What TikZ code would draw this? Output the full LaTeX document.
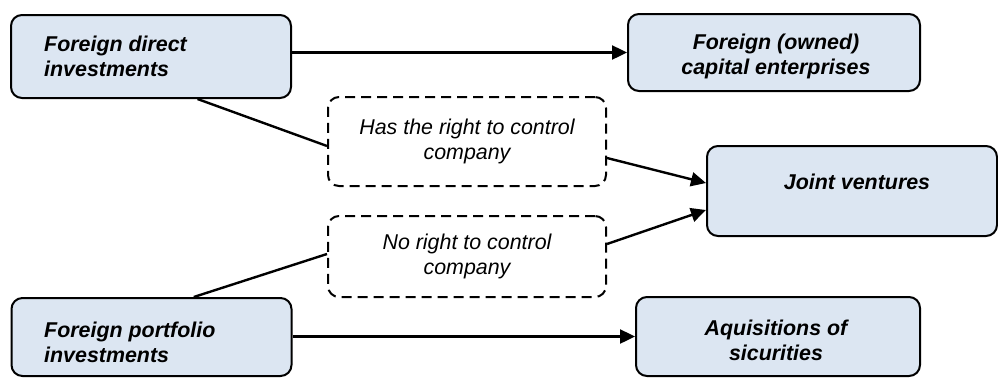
\documentclass[tikz,border=0pt]{standalone}
\usepackage{fontspec}
\setmainfont{Liberation Sans}
\usetikzlibrary{arrows.meta,calc}
\definecolor{boxfill}{HTML}{DCE6F2}
\begin{document}
\begin{tikzpicture}[x=1pt,y=-1pt,
  box/.style={draw, line width=2pt, fill=boxfill, rounded corners=11pt,
    inner sep=0pt},
  boxtext/.style={inner sep=0pt,
    font=\fontsize{21.4}{25}\selectfont\bfseries\itshape},
  note/.style={draw, line width=2pt, dash pattern=on 10pt off 6pt,
    rounded corners=11pt, inner sep=0pt, align=center,
    minimum width=278pt,
    font=\fontsize{21.4}{25}\selectfont\itshape},
  link/.style={line width=2.4pt},
  arrow/.style={link, -{Triangle[length=15pt,width=14pt]}}]

\useasboundingbox (0,0) rectangle (998,378);

% investment types (left)
\node[box, minimum width=280pt, minimum height=83pt] (fdi) at (151,56.5) {};
\node[boxtext, anchor=west, align=left] (fdi-text) at ($(fdi.west)+(34,0)$)
  {Foreign direct\\investments};
\node[box, minimum width=280pt, minimum height=78pt] (fpi) at (151.5,337) {};
\node[boxtext, anchor=west, align=left] (fpi-text) at ($(fpi.west)+(33.5,5)$)
  {Foreign portfolio\\investments};

% outcomes (right)
\node[box, minimum width=292pt, minimum height=77pt] (fo) at (774,52.5) {};
\node[boxtext, align=center] (fo-text) at ($(fo.center)+(2,3.5)$)
  {Foreign (owned)\\capital enterprises};
\node[box, minimum width=290pt, minimum height=90pt] (jv) at (852,191) {};
\node[boxtext] (jv-text) at ($(jv.center)+(5,-9)$) {Joint ventures};
\node[box, minimum width=284pt, minimum height=79pt] (aq) at (778,336.5) {};
\node[boxtext, align=center] (aq-text) at ($(aq.center)+(-2,3.5)$)
  {Aquisitions of\\sicurities};

% control conditions (middle)
\node[note, minimum height=89pt] (c1) at (467,141.5) {Has the right to control\\company};
\node[note, minimum height=81pt] (c2) at (467,256.5) {No right to control\\company};

% connectors
\draw[arrow] (fdi.east |- fo.west) -- (fo.west);
\draw[arrow] (fpi.east |- aq.west) -- (aq.west);
\draw[link] ($(fdi.south west)!0.665!(fdi.south east)$) -- ($(c1.west)+(0,4.5)$);
\draw[link] ($(fpi.north west)!0.65!(fpi.north east)$) -- ($(c2.west)+(0,-2.5)$);
\draw[arrow] ($(c1.east)+(0,16.5)$) -- ($(jv.west)+(0,-8)$);
\draw[arrow] ($(c2.east)+(0,-12.5)$) -- ($(jv.west)+(0,19)$);
\end{tikzpicture}
\end{document}
